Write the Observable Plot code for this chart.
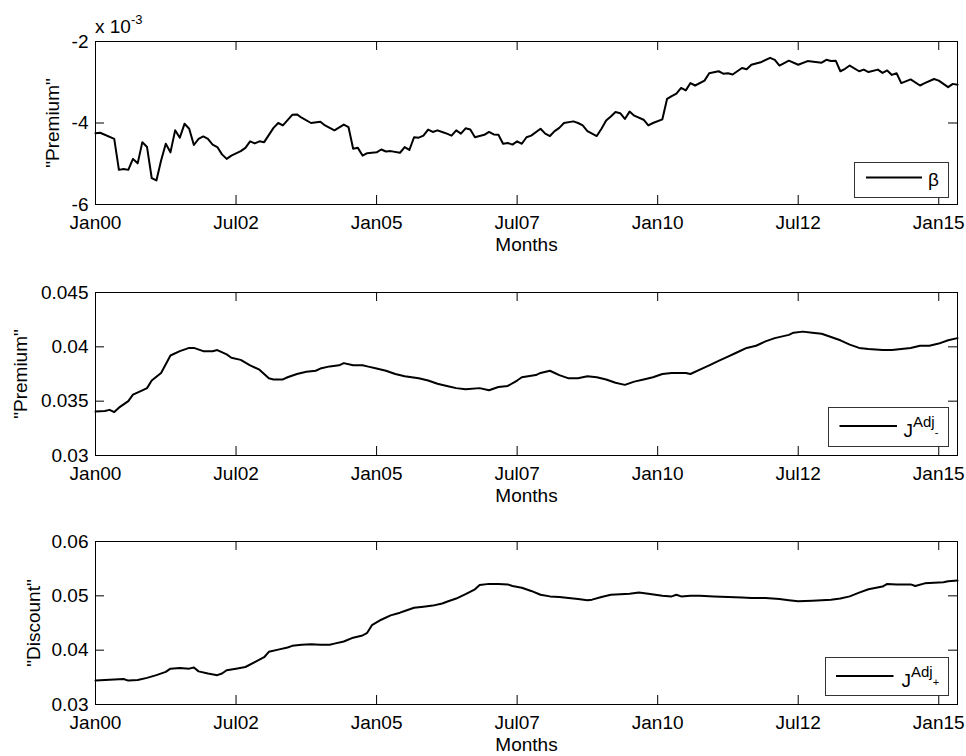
<!DOCTYPE html>
<html>
<head>
<meta charset="utf-8">
<script src="https://cdn.jsdelivr.net/npm/d3@7"></script>
<script src="https://cdn.jsdelivr.net/npm/@observablehq/plot@0.6"></script>
<style>
  html, body { margin: 0; padding: 0; background: #fff; }
  #chart { width: 966px; height: 756px; overflow: hidden; }
  #chart svg { display: block; }
</style>
</head>
<body>
<div id="chart"></div>
<script>
// Months are counted from January 2000 (0 = Jan00).
const xTickMonths = [0, 30, 60, 90, 120, 150, 180];
const xTickLabels = ["Jan00", "Jul02", "Jan05", "Jul07", "Jan10", "Jul12", "Jan15"];
const monthSpan = [0, 184];

// beta, in units of 10^-3
const betaTicks = [-6, -4, -2];
const betaMonths = [
  0, 1, 4, 5, 6, 7, 8, 9, 10, 11,
  12, 13, 14, 15, 16, 17, 18, 19, 20, 21,
  22, 23, 24, 25, 26, 27, 28, 29, 31, 32,
  33, 34, 35, 36, 38, 39, 40, 42, 43, 44,
  46, 48, 49, 50, 51, 53, 54, 55, 56, 57,
  58, 60, 61, 62, 63, 65, 66, 67, 68, 69,
  70, 71, 72, 73, 74, 75, 76, 77, 78, 79,
  80, 81, 83, 84, 85, 86, 87, 88, 89, 90,
  91, 92, 93, 95, 96, 97, 98, 99, 100, 102,
  103, 104, 105, 107, 108, 109, 110, 111, 112, 113,
  114, 115, 117, 118, 119, 121, 122, 123, 124, 125,
  126, 127, 128, 130, 131, 133, 134, 135, 136, 138,
  139, 140, 142, 144, 145, 146, 148, 150, 152, 155,
  156, 157, 158, 159, 160, 161, 163, 164, 165, 167,
  168, 169, 170, 171, 172, 174, 176, 177, 179, 180,
  182, 183, 184
];
const betaValues = [
  -4.25, -4.24, -4.39, -5.15, -5.13, -5.15, -4.88, -4.99, -4.47, -4.59,
  -5.35, -5.41, -4.92, -4.51, -4.72, -4.18, -4.36, -4.02, -4.14, -4.54,
  -4.39, -4.33, -4.39, -4.53, -4.59, -4.77, -4.88, -4.80, -4.69, -4.61,
  -4.45, -4.50, -4.45, -4.47, -4.12, -4.00, -4.06, -3.80, -3.79, -3.87,
  -4.00, -3.97, -4.06, -4.12, -4.18, -4.04, -4.10, -4.63, -4.61, -4.80,
  -4.74, -4.72, -4.65, -4.70, -4.69, -4.73, -4.59, -4.66, -4.35, -4.36,
  -4.31, -4.16, -4.22, -4.18, -4.22, -4.26, -4.31, -4.18, -4.26, -4.13,
  -4.16, -4.35, -4.29, -4.22, -4.28, -4.29, -4.51, -4.49, -4.53, -4.45,
  -4.51, -4.35, -4.31, -4.14, -4.26, -4.32, -4.20, -4.12, -4.00, -3.96,
  -4.00, -4.06, -4.20, -4.32, -4.14, -3.94, -3.84, -3.73, -3.76, -3.90,
  -3.72, -3.82, -3.92, -4.06, -4.00, -3.91, -3.41, -3.34, -3.28, -3.14,
  -3.20, -3.02, -3.08, -2.96, -2.78, -2.73, -2.79, -2.78, -2.81, -2.65,
  -2.68, -2.57, -2.51, -2.40, -2.45, -2.59, -2.47, -2.57, -2.48, -2.52,
  -2.45, -2.48, -2.47, -2.73, -2.67, -2.59, -2.73, -2.69, -2.75, -2.69,
  -2.77, -2.71, -2.82, -2.78, -3.02, -2.93, -3.08, -3.02, -2.92, -2.96,
  -3.12, -3.04, -3.06
];

// J^Adj- ("Premium")
const jMinusTicks = [0.03, 0.035, 0.04, 0.045];
const jMinusMonths = [
  0, 2, 3, 4, 5, 7, 8, 10, 11, 12,
  14, 15, 16, 18, 20, 21, 23, 25, 26, 28,
  29, 31, 33, 35, 37, 38, 40, 41, 43, 45,
  47, 48, 50, 52, 53, 55, 57, 58, 60, 62,
  64, 66, 69, 71, 73, 75, 77, 79, 82, 84,
  86, 88, 90, 91, 94, 95, 97, 99, 101, 103,
  105, 107, 109, 111, 113, 115, 117, 119, 121, 123,
  126, 127, 129, 131, 133, 135, 137, 139, 141, 143,
  145, 148, 149, 151, 153, 155, 157, 159, 161, 163,
  165, 168, 170, 172, 174, 176, 178, 180, 182, 184
];
const jMinusValues = [
  0.03405, 0.0341, 0.0342, 0.0340, 0.0344, 0.0350, 0.0356, 0.0360, 0.0362, 0.0369,
  0.0376, 0.0384, 0.0392, 0.0396, 0.0399, 0.0399, 0.0396, 0.0396, 0.0397, 0.0393,
  0.0390, 0.0388, 0.0383, 0.0379, 0.0371, 0.0370, 0.0370, 0.0372, 0.0375, 0.0377,
  0.0378, 0.0380, 0.0382, 0.0383, 0.0385, 0.0383, 0.0383, 0.0382, 0.0380, 0.0378,
  0.0375, 0.0373, 0.0371, 0.0369, 0.0366, 0.0364, 0.0362, 0.0361, 0.0362, 0.0360,
  0.0363, 0.0364, 0.0369, 0.0372, 0.0374, 0.0376, 0.0378, 0.0374, 0.0371, 0.0371,
  0.0373, 0.0372, 0.0370, 0.0367, 0.0365, 0.0368, 0.0370, 0.0372, 0.0375, 0.0376,
  0.0376, 0.0375, 0.0379, 0.0383, 0.0387, 0.0391, 0.0395, 0.0399, 0.0401, 0.0405,
  0.0408, 0.0411, 0.0413, 0.0414, 0.0413, 0.0412, 0.0409, 0.0406, 0.0402, 0.0399,
  0.0398, 0.0397, 0.0397, 0.0398, 0.0399, 0.0401, 0.0401, 0.0403, 0.0406, 0.0408
];

// J^Adj+ ("Discount")
const jPlusTicks = [0.03, 0.04, 0.05, 0.06];
const jPlusMonths = [
  0, 2, 6, 7, 9, 11, 13, 15, 16, 18,
  20, 21, 22, 24, 26, 27, 28, 30, 32, 34,
  36, 37, 39, 41, 42, 44, 46, 48, 50, 51,
  53, 55, 57, 58, 59, 61, 63, 65, 66, 68,
  70, 72, 74, 75, 77, 79, 81, 82, 84, 86,
  88, 89, 91, 93, 95, 97, 99, 101, 103, 105,
  106, 108, 110, 112, 114, 116, 118, 121, 123, 124,
  125, 127, 129, 132, 135, 138, 140, 143, 146, 148,
  150, 153, 155, 157, 159, 161, 163, 165, 168, 169,
  171, 174, 175, 177, 179, 181, 182, 184
];
const jPlusValues = [
  0.03443, 0.0345, 0.0347, 0.0344, 0.0345, 0.0349, 0.0354, 0.0360, 0.0366, 0.0367,
  0.0366, 0.0368, 0.0361, 0.0357, 0.0354, 0.0357, 0.0363, 0.0366, 0.0369, 0.0378,
  0.0387, 0.0397, 0.0401, 0.0405, 0.0408, 0.0410, 0.0411, 0.0410, 0.0410, 0.0412,
  0.0416, 0.0423, 0.0427, 0.0432, 0.0446, 0.0456, 0.0464, 0.0469, 0.0472, 0.0478,
  0.0480, 0.0482, 0.0486, 0.0489, 0.0495, 0.0503, 0.0512, 0.0520, 0.0522, 0.0522,
  0.0521, 0.0518, 0.0515, 0.0509, 0.0502, 0.0499, 0.0498, 0.0496, 0.0494, 0.0492,
  0.0493, 0.0498, 0.0502, 0.0503, 0.0504, 0.0506, 0.0504, 0.0500, 0.0499, 0.0502,
  0.0499, 0.0500, 0.0500, 0.0499, 0.0498, 0.0497, 0.0496, 0.0496, 0.0494, 0.0492,
  0.0490, 0.0491, 0.0492, 0.0493, 0.0495, 0.0499, 0.0506, 0.0512, 0.0517, 0.0522,
  0.0521, 0.0521, 0.0518, 0.0523, 0.0524, 0.0525, 0.0527, 0.0528
];

const FONT = "'Liberation Sans', Arial, Helvetica, sans-serif";
const WIDTH = 966, MARGIN_LEFT = 95, MARGIN_RIGHT = 9, TICK = 9;

function panel(cfg) {
  const innerW = WIDTH - MARGIN_LEFT - MARGIN_RIGHT;
  const innerH = cfg.height - cfg.marginTop - cfg.marginBottom;
  const rows = cfg.months.map((m, i) => ({month: m, value: cfg.values[i]}));
  const yDomain = [cfg.ticks[0], cfg.ticks[cfg.ticks.length - 1]];
  return Plot.plot({
    width: WIDTH,
    height: cfg.height,
    marginLeft: MARGIN_LEFT,
    marginRight: MARGIN_RIGHT,
    marginTop: cfg.marginTop,
    marginBottom: cfg.marginBottom,
    style: {fontFamily: FONT, fontSize: "19px", color: "#000", background: "#fff", overflow: "visible"},
    x: {type: "linear", domain: monthSpan},
    y: {type: "linear", domain: yDomain},
    marks: [
      Plot.line(rows, {x: "month", y: "value", stroke: "#000", strokeWidth: 2, strokeLinejoin: "round"}),
      // inward ticks on all four sides of the box
      Plot.tickX(xTickMonths, {x: d => d, stroke: "#000", insetTop: innerH - TICK}),
      Plot.tickX(xTickMonths, {x: d => d, stroke: "#000", insetBottom: innerH - TICK}),
      Plot.tickY(cfg.ticks, {y: d => d, stroke: "#000", insetRight: innerW - TICK}),
      Plot.tickY(cfg.ticks, {y: d => d, stroke: "#000", insetLeft: innerW - TICK}),
      Plot.axisX(xTickMonths, {tickSize: 0, tickPadding: 11, label: null,
        tickFormat: m => xTickLabels[xTickMonths.indexOf(m)]}),
      Plot.axisY(cfg.ticks, {tickSize: 0, tickPadding: 7, label: null, tickFormat: d => String(d)}),
      Plot.frame({stroke: "#000"}),
      Plot.text(["Months"], {text: d => d, frameAnchor: "bottom", textAnchor: "middle",
        lineAnchor: "bottom", dy: 46}),
      Plot.text([cfg.yLabel], {text: d => d, frameAnchor: "left", textAnchor: "middle",
        lineAnchor: "middle", rotate: -90, dx: cfg.yLabelDx})
    ]
  });
}

function appendLegend(svg, lg) {
  const g = d3.select(svg).append("g")
    .attr("font-family", FONT).attr("fill", "#000").attr("text-anchor", "start");
  g.append("rect")
    .attr("x", lg.x + 0.5).attr("y", lg.y + 0.5)
    .attr("width", lg.w).attr("height", lg.h)
    .attr("fill", "#fff").attr("stroke", "#333").attr("stroke-width", 1);
  g.append("line")
    .attr("x1", lg.x + lg.lineFrom).attr("x2", lg.x + lg.lineTo)
    .attr("y1", lg.y + lg.lineY).attr("y2", lg.y + lg.lineY)
    .attr("stroke", "#000").attr("stroke-width", 2);
  const t = g.append("text")
    .attr("x", lg.x + lg.textX).attr("y", lg.y + lg.textY)
    .attr("font-size", 19).attr("text-anchor", "start");
  t.append("tspan").text(lg.symbol);
  if (lg.sup) {
    t.append("tspan").attr("font-size", 15).attr("dy", -10).text(lg.sup);
    t.append("tspan").attr("font-size", 11).attr("dy", 9).text(lg.sub);
  }
}

const chart = document.getElementById("chart");

const p1 = panel({months: betaMonths, values: betaValues, ticks: betaTicks,
  yLabel: "\"Premium\"", yLabelDx: -43, height: 250, marginTop: 41, marginBottom: 46});
// axis multiplier above the top panel
{
  const t = d3.select(p1).append("text")
    .attr("x", 95).attr("y", 33).attr("text-anchor", "start")
    .attr("font-family", FONT).attr("font-size", 19).attr("fill", "#000");
  t.append("tspan").text("x 10");
  t.append("tspan").attr("font-size", 13).attr("dy", -9).text("-3");
}
appendLegend(p1, {x: 854, y: 162, w: 94, h: 35, lineFrom: 12, lineTo: 68, lineY: 15.5,
  textX: 74, textY: 23.5, symbol: "β"});
chart.appendChild(p1);

const p2 = panel({months: jMinusMonths, values: jMinusValues, ticks: jMinusTicks,
  yLabel: "\"Premium\"", yLabelDx: -75, height: 250, marginTop: 42, marginBottom: 45});
appendLegend(p2, {x: 828, y: 157, w: 120, h: 39, lineFrom: 11.5, lineTo: 69, lineY: 19,
  textX: 75.5, textY: 30, symbol: "J", sup: "Adj", sub: "-"});
chart.appendChild(p2);

const p3 = panel({months: jPlusMonths, values: jPlusValues, ticks: jPlusTicks,
  yLabel: "\"Discount\"", yLabelDx: -62, height: 256, marginTop: 41, marginBottom: 52});
appendLegend(p3, {x: 825, y: 157, w: 123, h: 38, lineFrom: 11, lineTo: 68.5, lineY: 19,
  textX: 76.5, textY: 29.5, symbol: "J", sup: "Adj", sub: "+"});
chart.appendChild(p3);
</script>
</body>
</html>
